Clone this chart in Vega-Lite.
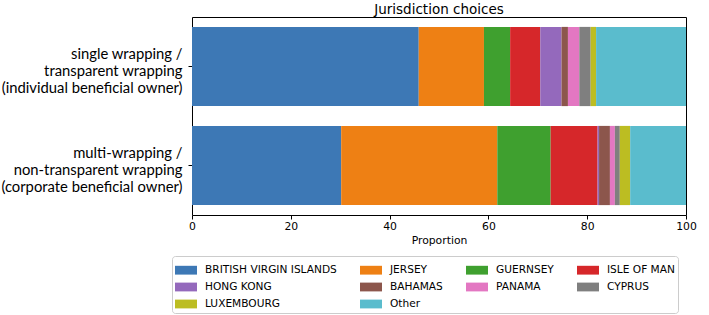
{
  "$schema": "https://vega.github.io/schema/vega-lite/v6.json",
  "width": 494,
  "height": 198,
  "autosize": {"type": "none"},
  "padding": {"left": 192, "top": 17, "right": 23, "bottom": 100},
  "title": {
    "text": "Jurisdiction choices",
    "font": "DejaVu Sans",
    "fontSize": 13.5,
    "fontWeight": "normal",
    "color": "#000000",
    "anchor": "middle",
    "offset": 1
  },
  "config": {
    "font": "DejaVu Sans",
    "view": {"stroke": "#000000", "strokeWidth": 1}
  },
  "data": {
    "values": [
      {"group": "single wrapping /\ntransparent wrapping\n(individual beneficial owner)", "jurisdiction": "BRITISH VIRGIN ISLANDS", "order": 1, "value": 45.9},
      {"group": "single wrapping /\ntransparent wrapping\n(individual beneficial owner)", "jurisdiction": "JERSEY", "order": 2, "value": 13.2},
      {"group": "single wrapping /\ntransparent wrapping\n(individual beneficial owner)", "jurisdiction": "GUERNSEY", "order": 3, "value": 5.3},
      {"group": "single wrapping /\ntransparent wrapping\n(individual beneficial owner)", "jurisdiction": "ISLE OF MAN", "order": 4, "value": 6.1},
      {"group": "single wrapping /\ntransparent wrapping\n(individual beneficial owner)", "jurisdiction": "HONG KONG", "order": 5, "value": 4.3},
      {"group": "single wrapping /\ntransparent wrapping\n(individual beneficial owner)", "jurisdiction": "BAHAMAS", "order": 6, "value": 1.3},
      {"group": "single wrapping /\ntransparent wrapping\n(individual beneficial owner)", "jurisdiction": "PANAMA", "order": 7, "value": 2.3},
      {"group": "single wrapping /\ntransparent wrapping\n(individual beneficial owner)", "jurisdiction": "CYPRUS", "order": 8, "value": 2.3},
      {"group": "single wrapping /\ntransparent wrapping\n(individual beneficial owner)", "jurisdiction": "LUXEMBOURG", "order": 9, "value": 1.1},
      {"group": "single wrapping /\ntransparent wrapping\n(individual beneficial owner)", "jurisdiction": "Other", "order": 10, "value": 18.2},
      {"group": "multi-wrapping / \nnon-transparent wrapping\n(corporate beneficial owner)", "jurisdiction": "BRITISH VIRGIN ISLANDS", "order": 1, "value": 30.2},
      {"group": "multi-wrapping / \nnon-transparent wrapping\n(corporate beneficial owner)", "jurisdiction": "JERSEY", "order": 2, "value": 31.6},
      {"group": "multi-wrapping / \nnon-transparent wrapping\n(corporate beneficial owner)", "jurisdiction": "GUERNSEY", "order": 3, "value": 10.8},
      {"group": "multi-wrapping / \nnon-transparent wrapping\n(corporate beneficial owner)", "jurisdiction": "ISLE OF MAN", "order": 4, "value": 9.5},
      {"group": "multi-wrapping / \nnon-transparent wrapping\n(corporate beneficial owner)", "jurisdiction": "HONG KONG", "order": 5, "value": 0.3},
      {"group": "multi-wrapping / \nnon-transparent wrapping\n(corporate beneficial owner)", "jurisdiction": "BAHAMAS", "order": 6, "value": 2.2},
      {"group": "multi-wrapping / \nnon-transparent wrapping\n(corporate beneficial owner)", "jurisdiction": "PANAMA", "order": 7, "value": 1.0},
      {"group": "multi-wrapping / \nnon-transparent wrapping\n(corporate beneficial owner)", "jurisdiction": "CYPRUS", "order": 8, "value": 1.0},
      {"group": "multi-wrapping / \nnon-transparent wrapping\n(corporate beneficial owner)", "jurisdiction": "LUXEMBOURG", "order": 9, "value": 2.1},
      {"group": "multi-wrapping / \nnon-transparent wrapping\n(corporate beneficial owner)", "jurisdiction": "Other", "order": 10, "value": 11.3}
    ]
  },
  "mark": {"type": "bar", "strokeWidth": 0},
  "encoding": {
    "y": {
      "field": "group",
      "type": "nominal",
      "sort": [
        "single wrapping /\ntransparent wrapping\n(individual beneficial owner)",
        "multi-wrapping / \nnon-transparent wrapping\n(corporate beneficial owner)"
      ],
      "scale": {"paddingInner": 0.2, "paddingOuter": 0.1},
      "axis": {
        "title": null,
        "domain": false,
        "ticks": true,
        "tickSize": 4,
        "tickColor": "#000000",
        "labelExpr": "split(datum.label, '\\n')",
        "labelFont": "Lato",
        "labelFontSize": 14.8,
        "labelLineHeight": 17,
        "labelColor": "#000000",
        "labelAlign": "right",
        "labelBaseline": "middle",
        "labelPadding": 6,
        "labelOffset": -11.5,
        "labelLimit": 0
      }
    },
    "x": {
      "field": "value",
      "type": "quantitative",
      "stack": "zero",
      "scale": {"domain": [0, 100], "nice": false},
      "axis": {
        "title": "Proportion",
        "values": [0, 20, 40, 60, 80, 100],
        "grid": false,
        "domain": false,
        "tickSize": 4,
        "tickColor": "#000000",
        "labelFontSize": 10.8,
        "labelColor": "#000000",
        "labelPadding": 1,
        "labelFlush": false,
        "titleFontSize": 10.8,
        "titleFontWeight": "normal",
        "titleColor": "#000000",
        "titlePadding": 4
      }
    },
    "color": {
      "field": "jurisdiction",
      "type": "nominal",
      "sort": null,
      "scale": {
        "domain": ["BRITISH VIRGIN ISLANDS", "JERSEY", "GUERNSEY", "ISLE OF MAN", "HONG KONG", "BAHAMAS", "PANAMA", "CYPRUS", "LUXEMBOURG", "Other"],
        "range": ["#3d78b5", "#ee8014", "#3fa02f", "#d6272a", "#9469bc", "#8c564c", "#e377c2", "#7f7f7f", "#bcbd22", "#5abccd"]
      },
      "legend": {
        "title": null,
        "orient": "none",
        "legendX": -20,
        "legendY": 239,
        "direction": "horizontal",
        "columns": 4,
        "columnPadding": 23,
        "rowPadding": -6,
        "padding": 3,
        "strokeColor": "#cccccc",
        "fillColor": "#ffffff",
        "cornerRadius": 3,
        "symbolType": "M-1,-0.4H1V0.4H-1Z",
        "symbolSize": 484,
        "symbolStrokeWidth": 0,
        "symbolOpacity": 1,
        "labelFont": "DejaVu Sans",
        "labelFontSize": 10.6,
        "labelColor": "#000000",
        "labelOffset": 8,
        "labelLimit": 0
      }
    },
    "order": {"field": "order", "type": "quantitative"}
  }
}
